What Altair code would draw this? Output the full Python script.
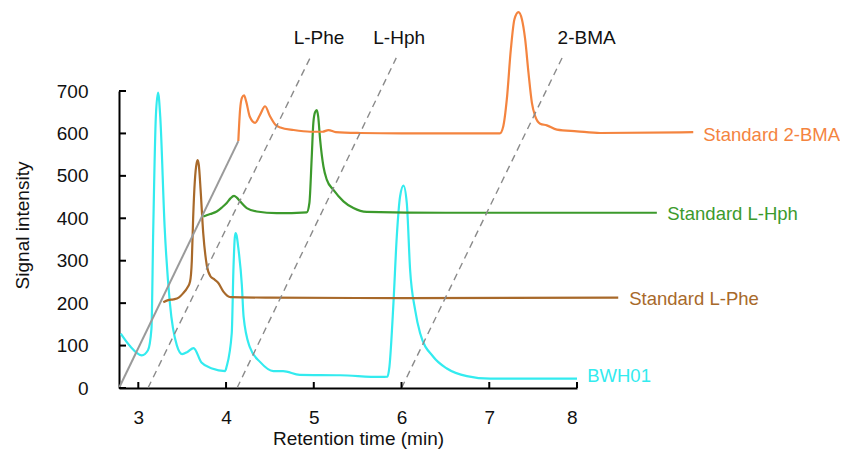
import altair as alt
import pandas as pd

# ---- data (plotted, offset coordinates) ----
bwh_x = [2.80, 2.90, 3.04, 3.11, 3.15, 3.17, 3.20, 3.225, 3.25, 3.30, 3.36, 3.44, 3.50, 3.56,
         3.63, 3.72, 3.84, 3.99, 4.006, 4.065, 4.085, 4.10, 4.11, 4.12, 4.14, 4.18, 4.20, 4.27,
         4.39, 4.54, 4.65, 4.84, 5.30, 5.76, 5.84, 5.862, 5.908, 5.946, 5.984, 6.022, 6.06,
         6.098, 6.155, 6.212, 6.364, 6.517, 6.745, 7.01, 8.00]
bwh_y = [128, 100, 77, 89, 140, 370, 640, 696, 640, 380, 200, 100, 80, 85,
         94, 60, 46, 40, 50, 129, 285, 355, 365, 360, 330, 243, 168, 97,
         61, 40, 40, 31, 30, 26, 27, 50, 200, 357, 452, 477, 436,
         278, 184, 129, 73, 46, 28, 22, 22]

phe_x = [3.285, 3.34, 3.40, 3.46, 3.51, 3.56, 3.59, 3.61, 3.625, 3.645, 3.665, 3.677, 3.69,
         3.71, 3.74, 3.78, 3.82, 3.86, 3.91, 3.97, 4.05, 4.5, 6.0, 8.47]
phe_y = [202, 207, 209, 213, 223, 237, 251, 300, 400, 490, 530, 537, 525,
         467, 365, 290, 264, 257, 248, 227, 214, 213, 212, 213]

hph_x = [3.741, 3.82, 3.894, 3.95, 4.008, 4.05, 4.091, 4.125, 4.16, 4.236, 4.35, 4.578, 4.92,
         4.95, 4.977, 4.995, 5.015, 5.034, 5.05, 5.072, 5.11, 5.148, 5.224, 5.338, 5.452,
         5.604, 6.5, 8.91]
hph_y = [404, 410, 416, 425, 436, 447, 453, 448, 440, 424, 416, 412, 414,
         436, 546, 625, 650, 655, 640, 586, 522, 491, 467, 440, 424,
         415, 413, 413]

bma_x = [4.14, 4.16, 4.183, 4.205, 4.23, 4.27, 4.331, 4.39, 4.445, 4.50, 4.56, 4.62, 4.77,
         4.96, 5.10, 5.167, 5.25, 5.53, 6.0, 6.55, 7.12, 7.16, 7.20, 7.246, 7.287, 7.333,
         7.372, 7.409, 7.447, 7.486, 7.523, 7.58, 7.656, 7.771, 8.0, 8.265, 9.325]
bma_y = [582, 656, 685, 690, 675, 640, 625, 645, 664, 641, 621, 614, 608,
         604, 604, 608, 603, 601, 600, 600, 600, 617, 680, 798, 869, 886,
         869, 822, 743, 672, 641, 623, 619, 609, 605, 601, 603]

series_names = ["BWH01", "Standard L-Phe", "Standard L-Hph", "Standard 2-BMA"]
series_colors = ["#33EBEF", "#A8692A", "#3C9A2C", "#F4843F"]

# series label anchors
label_x = [8.116, 8.595, 9.029, 9.439]
label_y = [28, 210, 410, 597]

# offset (baseline) diagonal
diag_x = [2.78, 4.14]
diag_y = [0, 582]

# dashed guide lines for each compound
guide_names = ["L-Phe", "L-Hph", "2-BMA"]
guide_x0 = [3.11, 4.125, 6.00]
guide_x1 = [4.958, 5.94, 7.83]
guide_y0 = [0, 0, 0]
guide_y1 = [778, 778, 778]
guide_label_x = [5.06, 5.973, 8.11]
guide_label_y = [824, 824, 824]

x_ticks = [3, 4, 5, 6, 7, 8]
y_ticks = [0, 100, 200, 300, 400, 500, 600, 700]

FONT = "Liberation Sans"
W, H = 458, 297

rows = []
for name, xs, ys in zip(series_names, [bwh_x, phe_x, hph_x, bma_x], [bwh_y, phe_y, hph_y, bma_y]):
    for i, (a, b) in enumerate(zip(xs, ys)):
        rows.append({"series": name, "t": a, "s": b, "i": i})
traces = pd.DataFrame(rows)

labels = pd.DataFrame({"series": series_names, "t": label_x, "s": label_y})
diag = pd.DataFrame({"t": diag_x, "s": diag_y, "i": [0, 1]})
grows = []
for n, a0, a1, b0, b1 in zip(guide_names, guide_x0, guide_x1, guide_y0, guide_y1):
    grows.append({"g": n, "t": a0, "s": b0, "i": 0})
    grows.append({"g": n, "t": a1, "s": b1, "i": 1})
guides = pd.DataFrame(grows)
glabels = pd.DataFrame({"g": guide_names, "t": guide_label_x, "s": guide_label_y})

xscale = alt.Scale(domain=[2.78, 8], nice=False, zero=False)
yscale = alt.Scale(domain=[0, 700], nice=False, zero=False)
color = alt.Color("series:N", scale=alt.Scale(domain=series_names, range=series_colors), legend=None)

xaxis = alt.Axis(values=x_ticks, title="Retention time (min)", grid=False, ticks=False,
                 labelPadding=20, titlePadding=2, titleX=239, format="d")
yaxis = alt.Axis(values=y_ticks, title="Signal intensity", grid=False, ticks=False,
                 labelPadding=31, titlePadding=24, titleY=134, format="d")

base_x = alt.X("t:Q", scale=xscale, axis=xaxis)
base_y = alt.Y("s:Q", scale=yscale, axis=yaxis)

lines = alt.Chart(traces).mark_line(strokeWidth=2.2, interpolate="monotone").encode(
    x=base_x, y=base_y, color=color, detail="series:N", order="i:Q")

diag_line = alt.Chart(diag).mark_line(color="#9a9a9a", strokeWidth=2).encode(
    x=alt.X("t:Q", scale=xscale), y=alt.Y("s:Q", scale=yscale), order="i:Q")

guide_lines = alt.Chart(guides).mark_line(color="#8a8a8a", strokeWidth=1.4, strokeDash=[7, 5]).encode(
    x=alt.X("t:Q", scale=xscale), y=alt.Y("s:Q", scale=yscale), detail="g:N", order="i:Q")

guide_text = alt.Chart(glabels).mark_text(font=FONT, fontSize=19, color="#111111",
                                          align="center", baseline="middle").encode(
    x=alt.X("t:Q", scale=xscale), y=alt.Y("s:Q", scale=yscale), text="g:N")

series_text = alt.Chart(labels).mark_text(font=FONT, fontSize=18.5, align="left",
                                          baseline="middle").encode(
    x=alt.X("t:Q", scale=xscale), y=alt.Y("s:Q", scale=yscale), text="series:N", color=color)

xt = pd.DataFrame({"t": x_ticks})
yt = pd.DataFrame({"s": y_ticks})
xtick_rules = alt.Chart(xt).mark_rule(color="black", strokeWidth=2).encode(
    x=alt.X("t:Q", scale=xscale), y=alt.value(H), y2=alt.value(H - 6))
ytick_rules = alt.Chart(yt).mark_rule(color="black", strokeWidth=2).encode(
    y=alt.Y("s:Q", scale=yscale), x=alt.value(0), x2=alt.value(7))

chart = alt.layer(lines, diag_line, guide_lines, guide_text, series_text,
                  xtick_rules, ytick_rules).properties(
    width=W, height=H,
    autosize=alt.AutoSizeParams(type="none"),
    padding={"left": 111, "top": 83, "right": 263, "bottom": 63}).configure_view(
    stroke=None).configure_axis(
    labelFont=FONT, labelFontSize=19, labelColor="#111111",
    titleFont=FONT, titleFontSize=19, titleColor="#111111", titleFontWeight="normal",
    domainColor="black", domainWidth=2)

chart.save("out.html", embed_options={"renderer": "svg", "actions": False})
